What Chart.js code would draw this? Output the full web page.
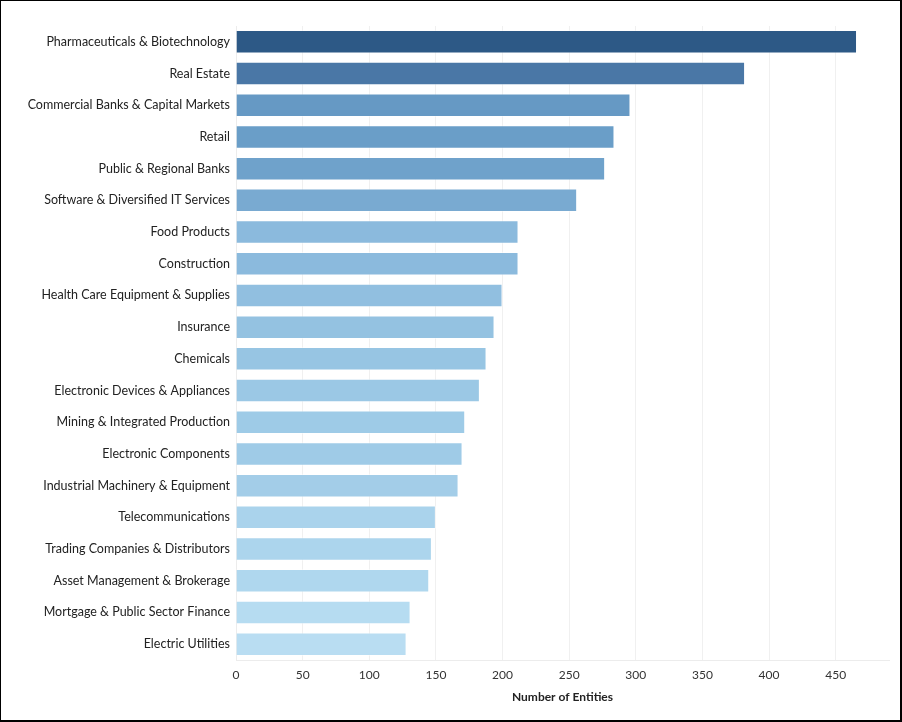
<!DOCTYPE html>
<html>
<head>
<meta charset="utf-8">
<script src="https://cdn.jsdelivr.net/npm/chart.js@4.4.1/dist/chart.umd.min.js"></script>
<style>
  html, body { margin: 0; padding: 0; background: #fff; }
  #frame {
    width: 902px; height: 722px; box-sizing: border-box;
    border-style: solid; border-color: #000;
    border-width: 1px 2px 2px 1px;
  }
  canvas { display: block; }
</style>
</head>
<body>
<div id="frame"><canvas id="myChart" width="899" height="719"></canvas></div>
<script>
const industries = [
  "Pharmaceuticals & Biotechnology",
  "Real Estate",
  "Commercial Banks & Capital Markets",
  "Retail",
  "Public & Regional Banks",
  "Software & Diversified IT Services",
  "Food Products",
  "Construction",
  "Health Care Equipment & Supplies",
  "Insurance",
  "Chemicals",
  "Electronic Devices & Appliances",
  "Mining & Integrated Production",
  "Electronic Components",
  "Industrial Machinery & Equipment",
  "Telecommunications",
  "Trading Companies & Distributors",
  "Asset Management & Brokerage",
  "Mortgage & Public Sector Finance",
  "Electric Utilities"
];
const entities = [466, 382, 296, 284, 277, 256, 212, 212, 200, 194, 188, 183, 172, 170, 167, 150, 147, 145, 131, 128];
const xTicks = [0, 50, 100, 150, 200, 250, 300, 350, 400, 450];

// tableau-like sequential blues, darkest for the largest count
const barColors = [
  "#2d5986", "#4a77a6", "#6699c4", "#6a9ec8", "#6fa2cb", "#79aad1",
  "#8bbadd", "#8bbadd", "#91bfe0", "#94c2e1", "#97c5e3", "#9bc8e5",
  "#9ecbe7", "#9fcbe7", "#a3cde8", "#aad3ec", "#acd5ed", "#afd7ee",
  "#b6dcf1", "#b9ddf2"
];

new Chart("myChart", {
  type: "bar",
  data: {
    labels: industries,
    datasets: [{
      data: entities,
      backgroundColor: barColors,
      borderColor: "rgba(255,255,255,0.45)",
      borderWidth: 1,
      categoryPercentage: 0.74,
      barPercentage: 1
    }]
  },
  options: {
    indexAxis: "y",
    responsive: false,
    animation: false,
    layout: { padding: { top: 25, right: 11, left: 0, bottom: 0 } },
    scales: {
      x: {
        min: 0,
        max: 490,
        afterBuildTicks: (scale) => { scale.ticks = xTicks.map(v => ({ value: v })); },
        afterFit: (scale) => { scale.height = 60; },
        grid: { color: "#f0f0f0", drawTicks: false },
        border: { color: "#ececec" },
        ticks: {
          padding: 8,
          color: "#333",
          font: { family: "Lato", size: 12 }
        },
        title: {
          display: true,
          text: "Number of Entities",
          color: "#222",
          font: { family: "Lato", size: 12, weight: "bold" },
          padding: { top: 6, bottom: 16 }
        }
      },
      y: {
        afterFit: (scale) => { scale.width = 235; },
        grid: { display: false, drawTicks: false },
        border: { color: "#ececec" },
        ticks: {
          padding: 6,
          color: "#222",
          font: { family: "Lato", size: 12.5 }
        }
      }
    },
    plugins: {
      legend: { display: false },
      tooltip: { enabled: false }
    }
  }
});
</script>
</body>
</html>
